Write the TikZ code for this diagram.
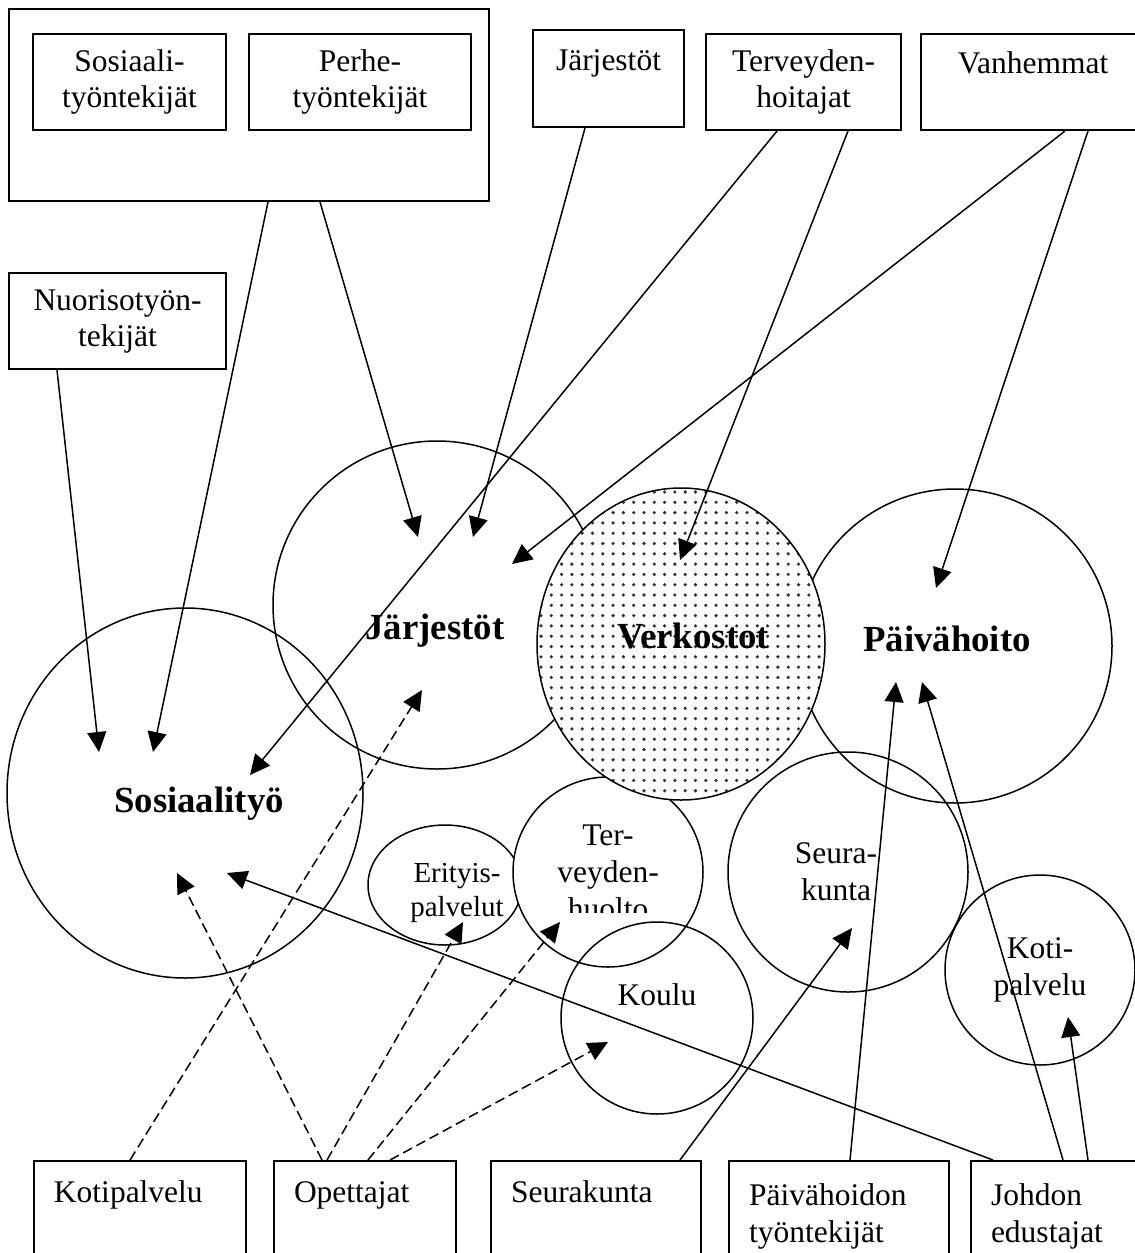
\documentclass[tikz,border=0pt]{standalone}
\usepackage{fontspec}
\setmainfont{Liberation Serif}
\usetikzlibrary{arrows.meta,shapes.geometric}

\begin{document}
\begin{tikzpicture}[x=0.5pt,y=-0.5pt,line width=0.75pt,
        box/.style={draw,line width=1pt,rectangle,anchor=north west,align=center,inner sep=0pt,
            font=\fontsize{15.75}{18}\selectfont},
        foot box/.style={draw,line width=1pt,rectangle,anchor=north west,align=left,inner xsep=10pt,
            minimum height=55pt,font=\fontsize{15.75}{18.5}\selectfont},
        area/.style={draw,ellipse,inner sep=0pt},
        dotted area/.style={area,fill=white,path picture={
            \foreach \i in {0,...,30}
                \foreach \j in {0,...,32}
                    \fill[black!80] ([shift={(4+\i*10.3,4+\j*10.3)}]path picture bounding box.north west) circle (0.9pt);
            }},
        big label/.style={font=\fontsize{18.4}{22}\selectfont\bfseries},
        small label/.style={align=center,font=\fontsize{15.75}{18.5}\selectfont},
        link/.style={-{Triangle[length=10pt,width=9.5pt]}},
        dash link/.style={link,dash pattern=on 5pt off 2.5pt}]

        \useasboundingbox (0,0) rectangle (1135,1253);

        % Define areas
        \node[area,minimum width=178pt,minimum height=185pt] (sos) at (185,793) {};
        \node[area,minimum width=164pt,minimum height=164pt] (jar) at (437,605) {};
        \node[area,minimum width=157pt,minimum height=157pt] (paiv) at (955,646) {};
        \node[area,minimum width=120pt,minimum height=120pt] (seur) at (848,872) {};
        \node[area,minimum width=95pt,minimum height=95pt] (koti) at (1040,970) {};
        \node[area,minimum width=77pt,minimum height=60pt] (erit) at (445,885) {};
        \node[area,fill=white,minimum width=95pt,minimum height=95pt] (tervh) at (608,872) {};
        \node[area,minimum width=96pt,minimum height=96pt] (koulu) at (657,1018) {};
        \node[dotted area,minimum width=144pt,minimum height=156pt] (verk) at (681,644) {};

        % Define labels
        \node[big label] (sos text) at (199,804) {Sosiaalityö};
        \node[big label] (jar text) at (435,631) {Järjestöt};
        \node[big label] (verk text) at (693,636) {Verkostot};
        \node[big label] (paiv text) at (947,639) {Päivähoito};
        \node[small label] (seur text) at (836,872) {Seura-\\kunta};
        \node[small label] (koti text) at (1040,970) {Koti-\\palvelu};
        \node[small label] (koulu text) at (657,995) {Koulu};
        \node[small label,font=\fontsize{14.5}{17}\selectfont] (erit text) at (457,893) {Erityis-\\palvelut};
        \begin{scope}
            \clip (500,760) rectangle (720,912);
            \node[small label] (tervh text) at (608,872) {Ter-\\veyden-\\huolto};
        \end{scope}

        % Define boxes
        \node[box,minimum width=240pt,minimum height=96pt] (ryhma) at (8,8) {};
        \node[box,minimum width=96.5pt,minimum height=48pt] (sostt) at (32,33) {Sosiaali-\\työntekijät};
        \node[box,minimum width=111pt,minimum height=48pt] (perhe) at (248,33) {Perhe-\\työntekijät};
        \node[box,minimum width=75.5pt,minimum height=48.5pt] (jarjb) at (532,29) {Järjestöt\\[-5pt]\strut};
        \node[box,minimum width=97.5pt,minimum height=48pt] (tervb) at (705,33) {Terveyden-\\hoitajat};
        \node[box,minimum width=112pt,minimum height=48pt] (vanh) at (920,33) {Vanhemmat\\[-4pt]\strut};
        \node[box,minimum width=108.5pt,minimum height=48pt] (nuor) at (8,272) {Nuorisotyön-\\tekijät};

        \node[foot box,text width=86pt] (kotib) at (33,1160) {Kotipalvelu\\\strut};
        \node[foot box,text width=71pt] (opet) at (273,1160) {Opettajat\\\strut};
        \node[foot box,text width=85pt] (seurb) at (490,1160) {Seurakunta\\\strut};
        \node[foot box,text width=90pt] (paivb) at (728,1160) {Päivähoidon\\työntekijät};
        \node[foot box,text width=70pt] (johto) at (970,1160) {Johdon\\edustajat};

        % Arrow tips
        \coordinate (sos a) at (99,752);
        \coordinate (sos b) at (153,752);
        \coordinate (sos c) at (250,775);
        \coordinate (sos d) at (177,873);
        \coordinate (sos e) at (227,873);
        \coordinate (jar a) at (418,537);
        \coordinate (jar b) at (473,537);
        \coordinate (jar c) at (512,564);
        \coordinate (jar d) at (422,690);
        \coordinate (verk a) at (680,560);
        \coordinate (paiv a) at (936,588);
        \coordinate (paiv b) at (896,682);
        \coordinate (paiv c) at (922,682);
        \coordinate (seur a) at (852,928);
        \coordinate (koti a) at (1068,1017);
        \coordinate (erit a) at (463,922);
        \coordinate (tervh a) at (560,922);
        \coordinate (koulu a) at (608,1042);

        % Draw edges
        \draw[link] ([xshift=24.5pt]nuor.south west) -- (sos a);
        \draw[link] ([xshift=130pt]ryhma.south west) -- (sos b);
        \draw[link] ([xshift=156pt]ryhma.south west) -- (jar a);
        \draw[link] ([xshift=26.5pt]jarjb.south west) -- (jar b);
        \draw[link] ([xshift=36pt]tervb.south west) -- (sos c);
        \draw[link] ([xshift=71.5pt]tervb.south west) -- (verk a);
        \draw[link] ([xshift=72.5pt]vanh.south west) -- (jar c);
        \draw[link] ([xshift=84pt]vanh.south west) -- (paiv a);

        \draw[dash link] ([xshift=48.5pt]kotib.north west) -- (jar d);
        \draw[dash link] ([xshift=24.5pt]opet.north west) -- (sos d);
        \draw[dash link] ([xshift=27pt]opet.north west) -- (erit a);
        \draw[dash link] ([xshift=47.5pt]opet.north west) -- (tervh a);
        \draw[dash link] ([xshift=58.5pt]opet.north west) -- (koulu a);
        \draw[link] ([xshift=95pt]seurb.north west) -- (seur a);
        \draw[link] ([xshift=61pt]paivb.north west) -- (paiv b);
        \draw[link] ([xshift=11.5pt]johto.north west) -- (sos e);
        \draw[link] ([xshift=46.5pt]johto.north west) -- (paiv c);
        \draw[link] ([xshift=59pt]johto.north west) -- (koti a);

\end{tikzpicture}
\end{document}
